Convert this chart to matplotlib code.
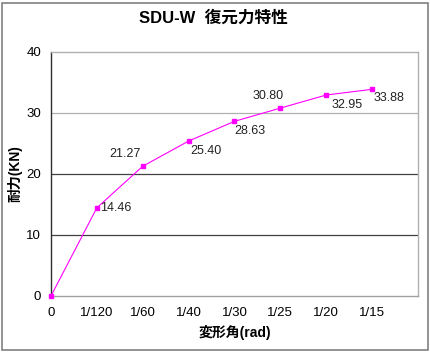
import matplotlib.pyplot as plt
from matplotlib.patches import Rectangle

plt.rcParams['font.family'] = ['Liberation Sans', 'Noto Sans CJK JP', 'DejaVu Sans']

categories = ['0', '1/120', '1/60', '1/40', '1/30', '1/25', '1/20', '1/15']
strength = [0, 14.46, 21.27, 25.40, 28.63, 30.80, 32.95, 33.88]
# label offsets (points) relative to each marker, and alignment
label_offsets = [None, (2, 0), (-13, 9), (1, -7), (11, -7), (-9, 9), (15, -7), (1, -6)]
label_ha = [None, 'left', 'center', 'left', 'center', 'center', 'center', 'left']

fig = plt.figure(figsize=(4.31, 3.59), dpi=100)
fig.patches.append(Rectangle((0.005, 0.025), 0.988, 0.967, transform=fig.transFigure,
                             fill=False, edgecolor='#808080', linewidth=1.2))
ax = fig.add_axes([0.1183, 0.1755, 0.8515, 0.6797])

x = list(range(len(categories)))
ax.plot(x, strength, color='#FF00FF', linewidth=0.8, marker='s', markersize=3.5,
        clip_on=False, zorder=3)

for i, v in enumerate(strength):
    if label_offsets[i] is None:
        continue
    ax.annotate('%.2f' % v, (i, v), xytext=label_offsets[i], textcoords='offset points',
                ha=label_ha[i], va='center', fontsize=9, color='#222222')

ax.set_xlim(0, 8)
ax.set_ylim(0, 40)
ax.set_yticks([0, 10, 20, 30, 40])
ax.set_xticks(x)
ax.set_xticklabels(categories, fontsize=9.5)
ax.set_xticks(range(9), minor=True)
ax.tick_params(axis='x', which='major', length=0, pad=8)
ax.tick_params(axis='x', which='minor', length=4, color='#808080', direction='in')
ax.tick_params(axis='y', length=0, labelsize=9.5, pad=7)

for yv, c in [(10, '#404040'), (20, '#404040'), (30, '#b0b0b0')]:
    ax.axhline(yv, color=c, linewidth=0.9, zorder=1)

ax.spines['left'].set_color('#303030')
ax.spines['bottom'].set_color('#a0a0a0')
ax.spines['top'].set_color('#b0b0b0')
ax.spines['right'].set_color('#b0b0b0')
for s in ax.spines.values():
    s.set_linewidth(1.0)

ax.set_xlabel('変形角(rad)', fontsize=10, fontweight='bold', labelpad=4)
ax.set_ylabel('耐力(KN)', fontsize=10, fontweight='bold', labelpad=3)
fig.text(0.495, 0.95, 'SDU-W  復元力特性', ha='center', va='center',
         fontsize=12, fontweight='bold')

fig.savefig('out.png', dpi=100)
